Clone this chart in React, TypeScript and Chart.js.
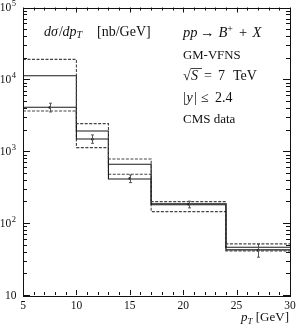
import React, { useEffect, useRef } from "react";
import { Chart, registerables } from "chart.js";
Chart.register(...registerables);

const binEdges = [5, 10, 13, 17, 24, 30];
const upperDashed = [19000, 2420, 782, 199, 51.4];
const solidA = [11250, 1915, 660, 186, 46.2];
const solidB = [4090, 1483, 412, 180, 42.5];
const lowerDashed = [3630, 1122, 479, 144.5, 41];
const dataX = [7.5, 11.5, 15, 20.5, 27];
const dataVal = [4070, 1470, 419, 183, 41.8];
const dataLo = [3520, 1290, 366, 163, 33.6];
const dataHi = [4660, 1687, 468, 202, 50.9];
const xTickLabels = [5, 10, 15, 20, 25, 30];
const yDecades = [1, 2, 3, 4, 5];

const FONT = '"Liberation Serif", "Times New Roman", serif';

type Run = { t: string; x?: number; i?: boolean; s?: number; dy?: number };

function drawRuns(ctx: CanvasRenderingContext2D, x: number, y: number, runs: Run[], base = 12.5) {
  let cx = x;
  const pos: number[] = [];
  for (const r of runs) {
    const size = r.s ?? base;
    ctx.font = `${r.i ? "italic " : ""}${size}px ${FONT}`;
    if (r.x !== undefined) cx = r.x;
    pos.push(cx);
    ctx.fillText(r.t, cx, y + (r.dy ?? 0));
    cx += ctx.measureText(r.t).width;
  }
  pos.push(cx);
  return pos;
}

function steps(vals: number[]) {
  return binEdges.map((e, i) => ({ x: e, y: vals[Math.min(i, vals.length - 1)] }));
}

const decorPlugin = {
  id: "decor",
  afterDatasetsDraw(chart: any) {
    const ctx: CanvasRenderingContext2D = chart.ctx;
    const xs = chart.scales.x;
    const ys = chart.scales.y;
    const { left, right, top, bottom } = chart.chartArea;
    ctx.save();
    // error bars
    ctx.strokeStyle = "#555";
    ctx.lineWidth = 1;
    for (let i = 0; i < dataX.length; i++) {
      const px = Math.round(xs.getPixelForValue(dataX[i])) + 0.5;
      const lo = ys.getPixelForValue(dataLo[i]);
      const hi = ys.getPixelForValue(dataHi[i]);
      ctx.beginPath();
      ctx.moveTo(px, lo);
      ctx.lineTo(px, hi);
      ctx.moveTo(px - 1.5, lo);
      ctx.lineTo(px + 1.5, lo);
      ctx.moveTo(px - 1.5, hi);
      ctx.lineTo(px + 1.5, hi);
      ctx.stroke();
    }
    // frame
    ctx.strokeStyle = "#111";
    ctx.lineWidth = 1;
    ctx.strokeRect(Math.round(left) + 0.5, Math.round(top) + 0.5, Math.round(right - left), Math.round(bottom - top));
    // y ticks
    ctx.beginPath();
    for (let k = 1; k <= 5; k++) {
      for (let m = 1; m <= 9; m++) {
        if (k === 5 && m > 1) break;
        const v = m * Math.pow(10, k);
        const py = Math.round(ys.getPixelForValue(v)) + 0.5;
        const len = m === 1 ? 7 : 4;
        ctx.moveTo(left, py);
        ctx.lineTo(left + len, py);
        ctx.moveTo(right, py);
        ctx.lineTo(right - len, py);
      }
    }
    // x ticks
    for (let v = 5; v <= 30; v++) {
      const px = Math.round(xs.getPixelForValue(v)) + 0.5;
      const len = v % 5 === 0 ? 5 : 3;
      ctx.moveTo(px, bottom);
      ctx.lineTo(px, bottom - len);
      ctx.moveTo(px, top);
      ctx.lineTo(px, top + len);
    }
    ctx.stroke();

    ctx.fillStyle = "#111";
    ctx.textBaseline = "alphabetic";
    // y labels
    for (const k of yDecades) {
      const py = ys.getPixelForValue(Math.pow(10, k));
      ctx.font = `11.5px ${FONT}`;
      const w10 = ctx.measureText("10").width;
      ctx.textAlign = "left";
      if (k === 1) {
        ctx.fillText("10", 16.5 - w10, py + 3.8);
      } else {
        ctx.font = `8.5px ${FONT}`;
        const we = ctx.measureText(String(k)).width;
        const x0 = 15.5 - we - w10;
        ctx.font = `11.5px ${FONT}`;
        ctx.fillText("10", x0, py + 3.8);
        ctx.font = `8.5px ${FONT}`;
        ctx.fillText(String(k), x0 + w10 + 0.5, py - 1.5);
      }
    }
    // x labels
    ctx.textAlign = "center";
    ctx.font = `11.5px ${FONT}`;
    for (const v of xTickLabels) {
      const px = xs.getPixelForValue(v);
      ctx.fillText(String(v), px, 309);
    }
    ctx.textAlign = "left";
    // x title
    {
      const runs: Run[] = [
        { t: "p", i: true, s: 13 },
        { t: "T", i: true, s: 9, dy: 2.5 },
        { t: " [GeV]", s: 13 },
      ];
      let w = 0;
      for (const r of runs) {
        ctx.font = `${r.i ? "italic " : ""}${r.s}px ${FONT}`;
        w += ctx.measureText(r.t).width;
      }
      drawRuns(ctx, 289 - w, 321, runs);
    }
    // y title
    drawRuns(ctx, 44, 35.5, [
      { t: "dσ", i: true, x: 44 },
      { t: "/", x: 59 },
      { t: "dp", i: true, x: 62.5 },
      { t: "T", i: true, s: 10, dy: 2.5 },
      { t: "[nb/GeV]", x: 97 },
    ], 14);
    // right block
    const bx = 183;
    drawRuns(ctx, bx, 37, [
      { t: "pp", i: true, x: 183 },
      { t: "→", x: 200 },
      { t: "B", i: true, x: 218.5 },
      { t: "+", s: 10, dy: -5.5 },
      { t: "+", x: 239 },
      { t: "X", i: true, x: 252.5 },
    ], 14.5);
    drawRuns(ctx, bx, 58.5, [{ t: "GM-VFNS" }], 12.8);
    const p = drawRuns(ctx, bx, 80, [
      { t: "√", x: 183 },
      { t: "S", i: true, x: 191 },
      { t: "=", x: 204 },
      { t: "7", x: 218 },
      { t: "TeV", x: 233 },
    ], 14);
    ctx.beginPath();
    ctx.lineWidth = 0.8;
    ctx.moveTo(p[0] + 7.5, 80 - 11.5);
    ctx.lineTo(p[2] - 2, 80 - 11.5);
    ctx.stroke();
    drawRuns(ctx, bx, 101.5, [
      { t: "|", x: 183 },
      { t: "y", i: true, x: 186.5 },
      { t: "|", x: 194 },
      { t: "≤", x: 201 },
      { t: "2.4", x: 215 },
    ], 14);
    drawRuns(ctx, bx, 123, [{ t: "CMS data" }], 13);
    ctx.restore();
  },
};

export default function App() {
  const ref = useRef<HTMLCanvasElement | null>(null);
  useEffect(() => {
    document.body.style.margin = "0";
    const canvas = ref.current!;
    const line = (vals: number[], dashed: boolean, color: string) => ({
      type: "line" as const,
      data: steps(vals),
      stepped: "before" as const,
      borderColor: color,
      borderWidth: 1.1,
      borderDash: dashed ? [3, 1.5] : [],
      pointRadius: 0,
      fill: false,
    });
    const chart = new Chart(canvas, {
      type: "line",
      data: {
        datasets: [
          line(upperDashed, true, "#444"),
          line(solidA, false, "#1a1a1a"),
          line(solidB, false, "#1a1a1a"),
          line(lowerDashed, true, "#444"),
          {
            type: "line",
            data: dataX.map((x, i) => ({ x, y: dataVal[i] })),
            showLine: false,
            pointRadius: 1.3,
            pointBackgroundColor: "#222",
            pointBorderColor: "#222",
            borderWidth: 0,
          } as any,
        ],
      },
      options: {
        animation: false,
        responsive: false,
        devicePixelRatio: 1,
        layout: { padding: { left: 23, right: 8, top: 7.5, bottom: 32 } },
        plugins: { legend: { display: false }, tooltip: { enabled: false } },
        scales: {
          x: { type: "linear", min: 5, max: 30, display: false },
          y: { type: "logarithmic", min: 10, max: 100000, display: false },
        },
      },
      plugins: [decorPlugin],
    } as any);
    return () => chart.destroy();
  }, []);
  return (
    <div style={{ position: "absolute", left: 0, top: 0, width: 298, height: 327, background: "#fff" }}>
      <canvas ref={ref} width={298} height={327} style={{ width: 298, height: 327 }} />
    </div>
  );
}
